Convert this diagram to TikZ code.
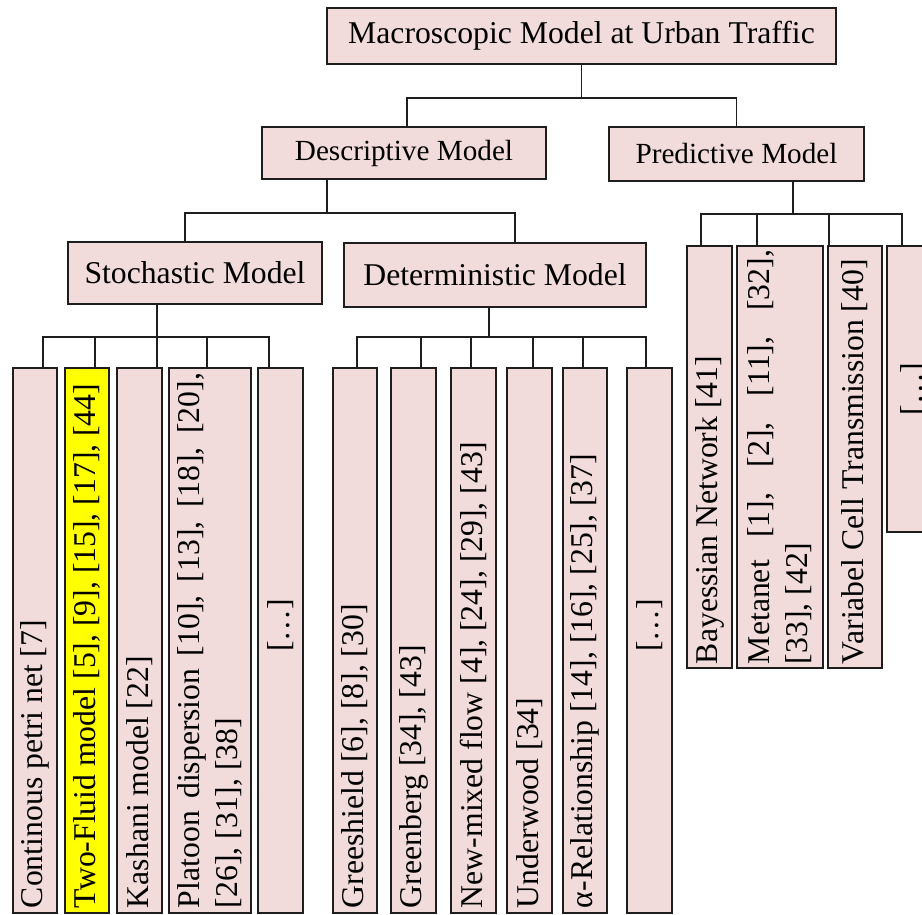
\documentclass[tikz,border=0pt]{standalone}
\usepackage{fontspec}
\setmainfont{Liberation Serif}
\definecolor{boxpink}{HTML}{F2DCDB}
\definecolor{hiyellow}{HTML}{FFFF00}
\definecolor{linegray}{HTML}{1E1E1E}
\tikzset{
    modelbox/.style={
           rectangle,
           draw=linegray,
           fill=boxpink,
           line width=1.5pt,
           inner sep=0pt,
           text centered,
           font=\fontsize{31.7}{38}\selectfont,
           },
    leafbox/.style={
           modelbox,
           rotate=90,
           inner xsep=5pt,
           align=flush left,
           },
    link/.style={
           draw=linegray,
           line width=1.5pt,
           },
}
\begin{document}
\begin{tikzpicture}[x=1pt,y=1pt]
\clip (0,0) rectangle (922,-914);
\fill[white] (0,0) rectangle (922,-914);
% upper levels
\node[modelbox,minimum width=509pt,minimum height=56pt](macro) at (581.5,-36) {Macroscopic Model at Urban Traffic};
\node[modelbox,minimum width=284pt,minimum height=52pt,font=\fontsize{29.2}{35}\selectfont](descr) at (404,-153) {Descriptive Model};
\node[modelbox,minimum width=255pt,minimum height=54pt,font=\fontsize{29.2}{35}\selectfont](pred) at (736.5,-154) {Predictive Model};
\node[modelbox,minimum width=254pt,minimum height=62pt](stoch) at (195,-273) {Stochastic Model};
\node[modelbox,minimum width=302pt,minimum height=64pt](determ) at (495,-275) {Deterministic Model};
% stochastic leaves
\node[leafbox,minimum width=545pt,minimum height=44pt,text width=535pt](contpetri) at (35,-640.5) {Continous petri net [7]};
\node[leafbox,minimum width=545pt,minimum height=44pt,text width=535pt,fill=hiyellow](twofluid) at (87,-640.5) {Two-Fluid model [5], [9], [15], [17], [44]};
\node[leafbox,minimum width=545pt,minimum height=45pt,text width=535pt](kashani) at (139.5,-640.5) {Kashani model [22]};
\node[leafbox,minimum width=545pt,minimum height=82pt,text width=535pt,align=justify](platoon) at (210,-640.5) {Platoon dispersion [10], [13], [18], [20],\linebreak{}[26], [31], [38]};
\node[leafbox,minimum width=545pt,minimum height=45pt,text width=535pt,align=flush center](stochmore) at (280.5,-640.5) {\hspace*{30pt}[…]};
% deterministic leaves
\node[leafbox,minimum width=545pt,minimum height=44pt,text width=535pt](greeshield) at (355,-640.5) {Greeshield [6], [8], [30]};
\node[leafbox,minimum width=545pt,minimum height=45pt,text width=535pt](greenberg) at (413.5,-640.5) {Greenberg [34], [43]};
\node[leafbox,minimum width=545pt,minimum height=45pt,text width=535pt](newmixed) at (473.5,-640.5) {New-mixed flow [4], [24], [29], [43]};
\node[leafbox,minimum width=545pt,minimum height=45pt,text width=535pt](underwood) at (529.5,-640.5) {Underwood [34]};
\node[leafbox,minimum width=545pt,minimum height=44pt,text width=535pt](alpharel) at (585,-640.5) {α-Relationship [14], [16], [25], [37]};
\node[leafbox,minimum width=545pt,minimum height=45pt,text width=535pt,align=flush center](determmore) at (649.5,-640.5) {\hspace*{30pt}[…]};
% predictive leaves
\node[leafbox,minimum width=422pt,minimum height=45pt,text width=414pt,inner xsep=4pt](bayes) at (709.5,-457) {Bayessian Network [41]};
\node[leafbox,minimum width=422pt,minimum height=86pt,text width=414pt,inner xsep=4pt,align=justify](metanet) at (780,-457) {Metanet [1], [2], [11], [32],\linebreak{}[33], [42]};
\node[leafbox,minimum width=422pt,minimum height=54pt,text width=414pt,inner xsep=4pt](vct) at (855,-457) {Variabel Cell Transmission [40]};
\node[leafbox,minimum width=286pt,minimum height=54pt,text width=276pt,align=flush center](predmore) at (914,-389) {[…]};
% connectors
\draw[link] (macro.south) -- ++(0,-33pt) -| ([xshift=3pt]descr.north);
\draw[link] (macro.south) -- ++(0,-33pt) -| (pred.north);
\draw[link] ([xshift=-77pt]descr.south) -- ++(0,-33pt) -| ([xshift=-10pt]stoch.north);
\draw[link] ([xshift=-77pt]descr.south) -- ++(0,-33pt) -| ([xshift=20pt]determ.north);
\foreach \kid/\dx in {bayes/-8.5, metanet/-23, vct/-26, predmore/-12}
  \draw[link] ([xshift=56.5pt]pred.south) -- ++(0,-32pt) -| ([xshift=\dx pt]\kid.east);
\foreach \kid/\dx in {contpetri/8, twofluid/8, kashani/17.5, platoon/-3, stochmore/-11.5}
  \draw[link] ([xshift=-38pt]stoch.south) -- ++(0,-32pt) -| ([xshift=\dx pt]\kid.east);
\foreach \kid/\dx in {greeshield/2, greenberg/7.5, newmixed/-2.5, underwood/3.5, alpharel/-2, determmore/-3.5}
  \draw[link] ([xshift=-6pt]determ.south) -- ++(0,-29pt) -| ([xshift=\dx pt]\kid.east);
\end{tikzpicture}
\end{document}
